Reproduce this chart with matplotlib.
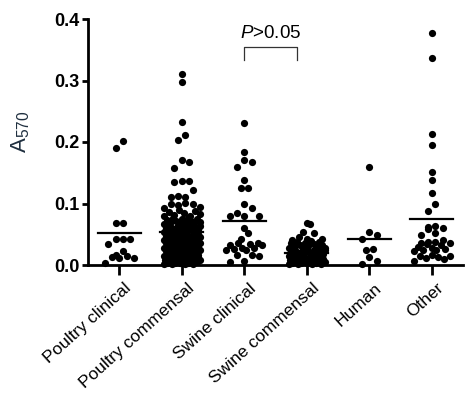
import matplotlib
matplotlib.use("Agg")
import matplotlib.pyplot as plt
import matplotlib.transforms as mtransforms
import numpy as np

plt.rcParams["font.family"] = ["Liberation Sans", "DejaVu Sans"]
plt.rcParams["mathtext.fontset"] = "custom"
plt.rcParams["mathtext.rm"] = "Liberation Sans"
plt.rcParams["mathtext.it"] = "Liberation Sans:italic"

categories = ["Poultry clinical", "Poultry commensal", "Swine clinical",
              "Swine commensal", "Human", "Other"]

poultry_clinical = [0.202, 0.190, 0.068, 0.068, 0.042, 0.042, 0.042, 0.034,
                    0.022, 0.016, 0.014, 0.013, 0.012, 0.011, 0.003]

poultry_commensal = [
    0.310, 0.297, 0.233, 0.211, 0.203, 0.170, 0.168, 0.158, 0.137, 0.137,
    0.135, 0.122, 0.112, 0.111, 0.110, 0.101, 0.100, 0.099, 0.097,
    0.094, 0.092, 0.089, 0.088, 0.086, 0.085, 0.083, 0.081, 0.080, 0.079,
    0.077, 0.076, 0.075, 0.073, 0.072, 0.071, 0.070, 0.069, 0.068, 0.067,
    0.066, 0.065, 0.064, 0.063, 0.062, 0.061, 0.060, 0.060, 0.059, 0.058,
    0.057, 0.056, 0.055, 0.054, 0.053, 0.052, 0.051, 0.050, 0.049, 0.048,
    0.047, 0.047, 0.046, 0.045, 0.044, 0.043, 0.042, 0.041, 0.040, 0.040,
    0.039, 0.038, 0.037, 0.036, 0.035, 0.035, 0.034, 0.033, 0.032, 0.031,
    0.030, 0.030, 0.029, 0.028, 0.027, 0.026, 0.025, 0.025, 0.024, 0.023,
    0.022, 0.022, 0.021, 0.020, 0.019, 0.019, 0.018, 0.017, 0.016, 0.016,
    0.015, 0.014, 0.013, 0.013, 0.012, 0.011, 0.010, 0.010, 0.009, 0.008,
    0.008, 0.007, 0.006, 0.006, 0.005, 0.005, 0.004, 0.004, 0.003, 0.003,
    0.002, 0.002, 0.001, 0.001, 0.026, 0.031, 0.036, 0.042, 0.048, 0.053,
    0.058, 0.063, 0.068, 0.074, 0.021, 0.017, 0.012, 0.028, 0.033, 0.044,
    0.039,
]

swine_clinical = [0.231, 0.183, 0.170, 0.168, 0.159, 0.138, 0.125, 0.125,
                  0.100, 0.092, 0.085, 0.080, 0.080, 0.080, 0.060, 0.052,
                  0.043, 0.036, 0.034, 0.033, 0.035, 0.032, 0.027, 0.026,
                  0.025, 0.028, 0.024, 0.016, 0.015, 0.017, 0.005, 0.006]

swine_commensal = [
    0.068, 0.066, 0.054, 0.052, 0.045, 0.043, 0.042, 0.040, 0.039, 0.038,
    0.037, 0.036, 0.035, 0.034, 0.033, 0.032, 0.031, 0.030, 0.029, 0.028,
    0.028, 0.027, 0.026, 0.025, 0.025, 0.024, 0.023, 0.022, 0.022, 0.021,
    0.020, 0.019, 0.018, 0.018, 0.017, 0.016, 0.015, 0.015, 0.014, 0.013,
    0.012, 0.012, 0.011, 0.010, 0.010, 0.009, 0.008, 0.008, 0.007, 0.006,
    0.006, 0.005, 0.004, 0.004, 0.003, 0.003, 0.002, 0.002, 0.001, 0.001,
]

human = [0.160, 0.053, 0.048, 0.043, 0.026, 0.024, 0.013, 0.006, 0.002]

other = [0.378, 0.336, 0.213, 0.195, 0.152, 0.138, 0.117, 0.099, 0.088,
         0.064, 0.060, 0.058, 0.062, 0.049, 0.052, 0.041, 0.038, 0.036,
         0.035, 0.037, 0.034, 0.032, 0.025, 0.024, 0.023, 0.026, 0.015,
         0.014, 0.013, 0.016, 0.012, 0.009, 0.007, 0.028, 0.030]

group_means = [0.052, 0.054, 0.0715, 0.019, 0.042, 0.075]

y_ticks = [0.0, 0.1, 0.2, 0.3, 0.4]
y_tick_labels = ["0.0", "0.1", "0.2", "0.3", "0.4"]

groups = [poultry_clinical, poultry_commensal, swine_clinical,
          swine_commensal, human, other]


def _row_offsets(values, row_h=0.0122, dx=0.118, max_half=0.29):
    # GraphPad-style: points at similar heights are laid out side by side
    v = np.sort(np.asarray(values))
    offsets = np.zeros(len(v))
    start = 0
    while start < len(v):
        end = start
        while end < len(v) and v[end] - v[start] < row_h:
            end += 1
        n = end - start
        step = dx if n <= 1 else min(dx, 2 * max_half / (n - 1))
        slots = (np.arange(n) - (n - 1) / 2) * step
        # shuffle slots deterministically so rows don't look slanted
        order = np.argsort((np.arange(n) * 0.618) % 1.0)
        offsets[start:end] = slots[order]
        start = end
    return v, offsets


fig = plt.figure(figsize=(4.74, 3.94), dpi=100)
ax = fig.add_axes([88 / 474, 1 - 265 / 394, 375 / 474, 246 / 394])

for i, vals in enumerate(groups):
    v, off = _row_offsets(vals)
    ax.scatter(i + off, v, s=27, color="black", linewidths=0, zorder=3, clip_on=False)
    ax.plot([i - 0.345, i + 0.345], [group_means[i]] * 2, color="black", lw=1.6, zorder=4)

ax.set_xlim(-0.5, 5.5)
ax.set_ylim(0, 0.4)
ax.spines["top"].set_visible(False)
ax.spines["right"].set_visible(False)
for side in ["left", "bottom"]:
    ax.spines[side].set_linewidth(2.0)

ax.set_yticks(y_ticks)
ax.set_yticklabels(y_tick_labels, fontsize=13, fontweight="bold")
ax.set_xticks(range(len(categories)))
ax.set_xticklabels(categories, fontsize=12.5, rotation=42, ha="right", va="top",
                   rotation_mode="anchor")
ax.tick_params(axis="y", length=4.5, width=2.0, pad=1.5)
ax.tick_params(axis="x", length=7, width=2.0, pad=2)
shift = mtransforms.ScaledTranslation(0.05, -0.03, fig.dpi_scale_trans)
for lbl in ax.get_xticklabels():
    lbl.set_transform(lbl.get_transform() + shift)

ax.set_ylabel(r"$\mathregular{A_{570}}$", fontsize=16, color="#1f2f3f")
ax.yaxis.set_label_coords(-0.15, 0.54)

# significance bracket between the two swine groups
bx0, bx1, by_top, by_bot = 2.0, 2.85, 0.354, 0.333
ax.plot([bx0, bx0, bx1, bx1], [by_bot, by_top, by_top, by_bot],
        color="#333333", lw=0.9, clip_on=False)
ax.text((bx0 + bx1) / 2, 0.362, r"$\mathit{P}$>0.05", ha="center", va="bottom",
        fontsize=13.5)

fig.savefig("out.png", dpi=100)
